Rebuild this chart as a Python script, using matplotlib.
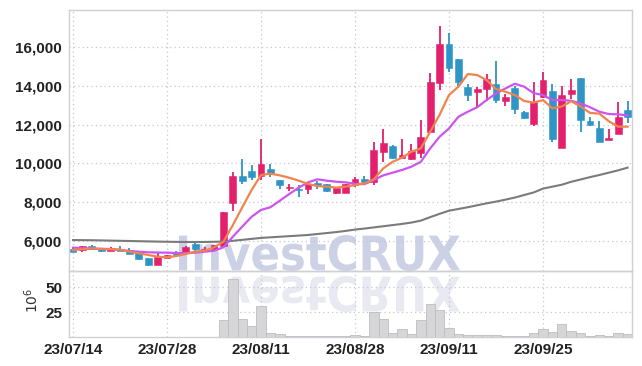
import numpy as np
import matplotlib
matplotlib.use('Agg')
import matplotlib.pyplot as plt
from matplotlib.textpath import TextPath
from matplotlib.patches import PathPatch
from matplotlib.font_manager import FontProperties
from matplotlib.transforms import Affine2D, IdentityTransform
from matplotlib.ticker import FuncFormatter, FixedLocator

tick_idx = [0, 10, 20, 30, 40, 50]
tick_labels = ['23/07/14', '23/07/28', '23/08/11', '23/08/28', '23/09/11', '23/09/25']

opens = [5580, 5540, 5740, 5620, 5500, 5600, 5540, 5410, 5120, 4780,
         5150, 5430, 5370, 5860, 5510, 5580, 5750, 7950, 9350, 9620,
         9370, 9700, 9140, 8720, 8700, 8660, 8970, 8920, 8460, 8490,
         8900, 9190, 9060, 10590, 10900, 10280, 10230, 10550, 11620, 14150,
         16140, 15370, 13930, 13660, 13810, 14080, 13230, 13890, 12640, 12040,
         13400, 13720, 10810, 13570, 14410, 12180, 11820, 11200, 11530, 12740]
highs = [5620, 5760, 5790, 5640, 5680, 5730, 5630, 5430, 5130, 5370,
         5300, 5500, 5720, 5910, 5680, 5800, 7500, 9540, 10200, 9910,
         11270, 9960, 9160, 8930, 8880, 8940, 9090, 8950, 8790, 8940,
         9290, 9350, 11110, 11750, 10950, 11240, 11000, 12230, 14640, 17070,
         16700, 15400, 14070, 13920, 14590, 15250, 13570, 13960, 12700, 14190,
         14720, 14070, 13980, 14330, 14420, 12380, 12180, 11770, 13140, 13230]
lows = [5420, 5450, 5560, 5440, 5480, 5480, 5330, 5020, 4710, 4760,
        5130, 5240, 5340, 5500, 5440, 5550, 5740, 7530, 8930, 9140,
        9140, 9310, 8660, 8560, 8280, 8420, 8680, 8500, 8420, 8470,
        8800, 9000, 8880, 10080, 10240, 10200, 10150, 10290, 11600, 13760,
        14720, 13860, 13210, 12890, 13210, 13120, 12970, 12540, 12300, 11920,
        13350, 11110, 10780, 13300, 11630, 11900, 11110, 11180, 11500, 12090]
closes = [5450, 5730, 5580, 5490, 5650, 5510, 5350, 5070, 4770, 5160,
          5280, 5300, 5700, 5600, 5600, 5770, 7490, 9350, 9100, 9310,
          9980, 9450, 8900, 8790, 8640, 8920, 8890, 8580, 8750, 8920,
          9190, 9040, 10690, 11050, 10280, 10440, 10650, 11360, 14190, 16150,
          14930, 14170, 13540, 13830, 14330, 13260, 13420, 12810, 12340, 13160,
          14290, 11250, 13520, 13780, 12230, 11990, 11110, 11320, 12370, 12370]

ma_short = [5530, 5580, 5620, 5600, 5580, 5560, 5450, 5370, 5280, 5190,
            5160, 5227, 5330, 5450, 5500, 5675, 5965, 6820, 7730, 8630,
            9400, 9470, 9380, 9260, 9110, 8940, 8830, 8800, 8750, 8800,
            8880, 8970, 9180, 9740, 10080, 10290, 10600, 10770, 11630, 12500,
            13520, 13950, 14600, 14550, 14290, 13830, 13690, 13520, 13210, 13130,
            13260, 12840, 12930, 13200, 12930, 12600, 12560, 12170, 11890, 11890]
ma_mid = [5655, 5640, 5603, 5590, 5580, 5540, 5485, 5450, 5418, 5405,
          5400, 5380, 5380, 5400, 5450, 5500, 5675, 6220, 6740, 7250,
          7600, 7740, 8075, 8420, 8745, 9020, 9180, 9106, 9055, 9020,
          8950, 8930, 9140, 9380, 9520, 9660, 9830, 10080, 10770, 11370,
          11800, 12400, 12660, 12890, 13260, 13600, 13860, 14100, 13950, 13620,
          13520, 13260, 13260, 13225, 13090, 12890, 12660, 12540, 12525, 12470]
ma_long = [6050, 6045, 6040, 6030, 6020, 6010, 6000, 5990, 5980, 5970,
           5960, 5955, 5950, 5950, 5950, 5960, 5970, 6010, 6060, 6110,
           6160, 6190, 6220, 6250, 6280, 6310, 6360, 6410, 6460, 6520,
           6590, 6640, 6700, 6760, 6820, 6880, 6950, 7050, 7230, 7400,
           7560, 7650, 7740, 7840, 7940, 8030, 8130, 8240, 8370, 8500,
           8700, 8800, 8900, 9050, 9170, 9290, 9400, 9520, 9640, 9780]
volume = [0.2, 0.2, 0.2, 0.2, 0.2, 0.2, 0.2, 0.2, 0.3, 0.3,
          0.2, 0.2, 0.2, 0.3, 0.2, 0.3, 17, 58, 18, 11,
          31, 4, 3, 1.5, 1.5, 1.5, 1, 1, 1, 1,
          2, 1, 25, 18, 4, 8, 3, 17, 33, 27,
          9, 3.5, 2.5, 2.5, 2.5, 2.5, 0.7, 0.7, 0.7, 4.3,
          8, 5.3, 13, 6.3, 4.3, 1, 2, 1, 4.3, 3]

UP = '#e3206b'
DOWN = '#2e95c6'
GRID = '#c3c7da'
W, H = 642, 366

fig = plt.figure(figsize=(W / 100, H / 100), dpi=100)
fig.patch.set_facecolor('white')

def rect(l, t, r, b):
    return [l / W, 1 - b / H, (r - l) / W, (b - t) / H]

ax = fig.add_axes(rect(69, 10, 632, 271))
axv = fig.add_axes(rect(69, 271, 632, 337), sharex=ax)
for a in (ax, axv):
    a.set_facecolor('none')
    for s in a.spines.values():
        s.set_color('#cfcfd4')
        s.set_linewidth(1.0)
    a.grid(True, color=GRID, linestyle=(0, (1, 2.5)), linewidth=0.9)
    a.set_axisbelow(True)
    a.tick_params(length=0, colors='#222222')

x = np.arange(len(opens))
o = np.array(opens); c = np.array(closes); h = np.array(highs); l = np.array(lows)
cols = [UP if cc >= oo else DOWN for oo, cc in zip(o, c)]
ax.vlines(x, l, h, colors=cols, linewidth=1.3, zorder=3)
body = np.maximum(np.abs(c - o), 60)
ax.bar(x, body, bottom=np.minimum(o, c), width=0.72, color=cols,
       edgecolor=cols, linewidth=0.4, zorder=4)

ax.plot(x, ma_long, color='#7b7b7b', lw=1.5, zorder=5)
ax.plot(x, ma_mid, color='#cc55ee', lw=1.6, zorder=5)
ax.plot(x, ma_short, color='#f0834e', lw=1.6, zorder=6)

ax.set_xlim(-0.43, 59.47)
ax.set_ylim(4455, 17900)
ax.yaxis.set_major_locator(FixedLocator([6000, 8000, 10000, 12000, 14000, 16000]))
ax.yaxis.set_major_formatter(FuncFormatter(lambda v, p: f'{int(v):,}'))
ax.xaxis.set_major_locator(FixedLocator(tick_idx))
plt.setp(ax.get_xticklabels(), visible=False)

axv.bar(x, volume, width=1.0, color='#d6d6d8', edgecolor='#bdbdc1', linewidth=0.6, zorder=3)
axv.set_ylim(0, 66.3)
axv.yaxis.set_major_locator(FixedLocator([25, 50]))
axv.set_xticks(tick_idx)
axv.set_xticklabels(tick_labels)

lab_font = dict(family=['Liberation Sans Narrow', 'Liberation Sans'], weight='bold', size=11)
for a in (ax, axv):
    for t in a.get_yticklabels() + a.get_xticklabels():
        t.set_fontproperties(FontProperties(**lab_font))
        t.set_color('#222222')
ax.tick_params(axis='y', pad=5)
axv.tick_params(axis='y', pad=5)
axv.tick_params(axis='x', pad=4)
fig.text(32 / W, 1 - 300 / H, r'$10^6$', rotation=90, ha='center', va='center',
         fontsize=10, color='#333333')

# watermark with reflection
tp = TextPath((0, 0), 'InvestCRUX', size=100,
              prop=FontProperties(family='DejaVu Sans', weight='bold'))
bb = tp.get_extents()
x0, x1 = 179, 460
top, base = 235, 271
sx = (x1 - x0) / bb.width
sy = (base - top) / bb.height
tr_up = Affine2D().translate(-bb.x0, -bb.y0).scale(sx, sy).translate(x0, H - base)
fig.patches.append(PathPatch(tr_up.transform_path(tp), facecolor='#cdd1e6', edgecolor='none',
                             transform=IdentityTransform(), zorder=-1, figure=fig))
rbase = 276
tr_dn = Affine2D().translate(-bb.x0, -bb.y0).scale(sx, -sy).translate(x0, H - rbase)
fig.patches.append(PathPatch(tr_dn.transform_path(tp), facecolor='#e8e9f1', edgecolor='none',
                             transform=IdentityTransform(), zorder=-1, figure=fig))

fig.savefig('out.png', dpi=100, facecolor='white')
